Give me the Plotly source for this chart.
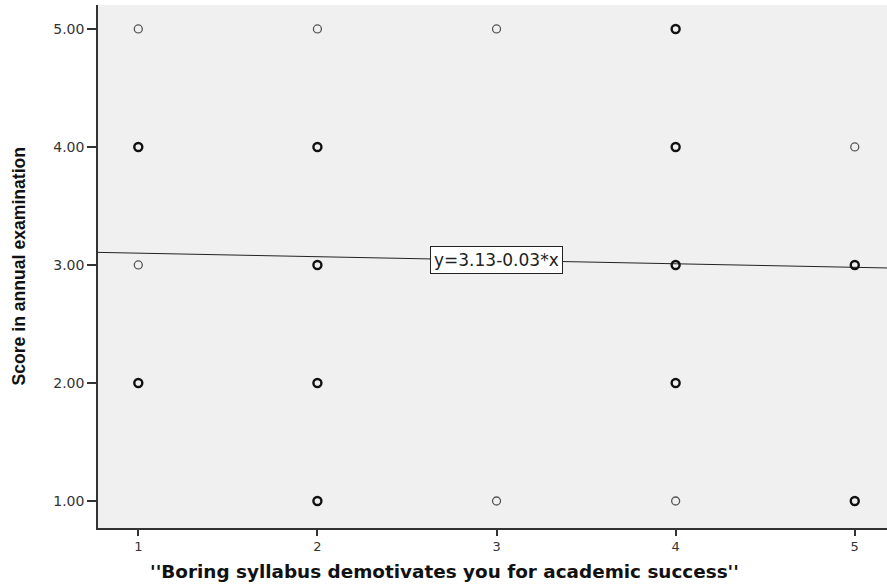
import plotly.graph_objects as go

# Data (x category, y score, overlap count)
x_vals = [1, 1, 1, 1, 2, 2, 2, 2, 2, 3, 3, 4, 4, 4, 4, 4, 5, 5, 5]
y_vals = [5, 4, 3, 2, 5, 4, 3, 2, 1, 5, 1, 5, 4, 3, 2, 1, 4, 3, 1]
counts = [1, 3, 1, 3, 1, 4, 4, 4, 3, 1, 1, 3, 4, 4, 3, 1, 1, 3, 3]
intercept = 3.13
slope = -0.03
x_ticks = [1, 2, 3, 4, 5]
y_ticks = [1, 2, 3, 4, 5]
x_range = [0.775, 5.18]
y_range = [0.771, 5.203]
x_title = "''Boring syllabus demotivates you for academic success''"
y_title = "Score in annual examination"
fit_label = "y=3.13-0.03*x"

fig = go.Figure()

single_x = [x for x, c in zip(x_vals, counts) if c == 1]
single_y = [y for y, c in zip(y_vals, counts) if c == 1]
multi_x = [x for x, c in zip(x_vals, counts) if c > 1]
multi_y = [y for y, c in zip(y_vals, counts) if c > 1]

# regression line
fig.add_trace(go.Scatter(
    x=x_range, y=[intercept + slope * x_range[0], intercept + slope * x_range[1]],
    mode="lines", line=dict(color="#222222", width=1), showlegend=False, hoverinfo="skip"))

fig.add_trace(go.Scatter(
    x=single_x, y=single_y, mode="markers",
    marker=dict(symbol="circle-open", size=8, color="#555555", line=dict(width=1.3, color="#555555")),
    showlegend=False))
fig.add_trace(go.Scatter(
    x=multi_x, y=multi_y, mode="markers",
    marker=dict(symbol="circle-open", size=8, color="#111111", line=dict(width=2.4, color="#111111")),
    showlegend=False))

fig.add_annotation(
    x=3, y=intercept + slope * 3, text=fit_label, showarrow=False,
    font=dict(family="DejaVu Sans, sans-serif", size=17, color="#222222"),
    bgcolor="white", bordercolor="#222222", borderwidth=1, borderpad=3)

# axis titles
fig.add_annotation(
    xref="paper", yref="paper", x=(444 - 98) / (887 - 98), y=(528 - 571) / 523,
    text="<b>" + x_title + "</b>", showarrow=False, xanchor="center", yanchor="middle",
    font=dict(family="DejaVu Sans, sans-serif", size=18.4, color="#111111"))
fig.add_annotation(
    xref="paper", yref="paper", x=(18 - 98) / (887 - 98), y=0.5,
    text="<b>" + y_title + "</b>", showarrow=False, textangle=-90,
    xanchor="center", yanchor="middle",
    font=dict(family="Liberation Sans, Arial, sans-serif", size=17.6, color="#111111"))

fig.update_layout(
    width=887, height=587,
    margin=dict(l=98, r=0, t=5, b=59),
    paper_bgcolor="white", plot_bgcolor="#f0f0f0",
    font=dict(family="DejaVu Sans, sans-serif", color="#333333"),
    xaxis=dict(
        range=x_range, tickvals=x_ticks, ticks="outside", ticklen=6, tickwidth=1.5,
        tickcolor="#333333", showgrid=False, zeroline=False, showline=True,
        linecolor="#333333", linewidth=1.5, tickfont=dict(size=13, color="#333333")),
    yaxis=dict(
        range=y_range, tickvals=y_ticks, tickformat=".2f", ticks="outside", ticklen=9,
        tickwidth=1.5, tickcolor="#333333", showgrid=False, zeroline=False, showline=True,
        linecolor="#333333", linewidth=1.5, tickfont=dict(size=14, color="#333333")),
)

fig.write_html("out.html")
